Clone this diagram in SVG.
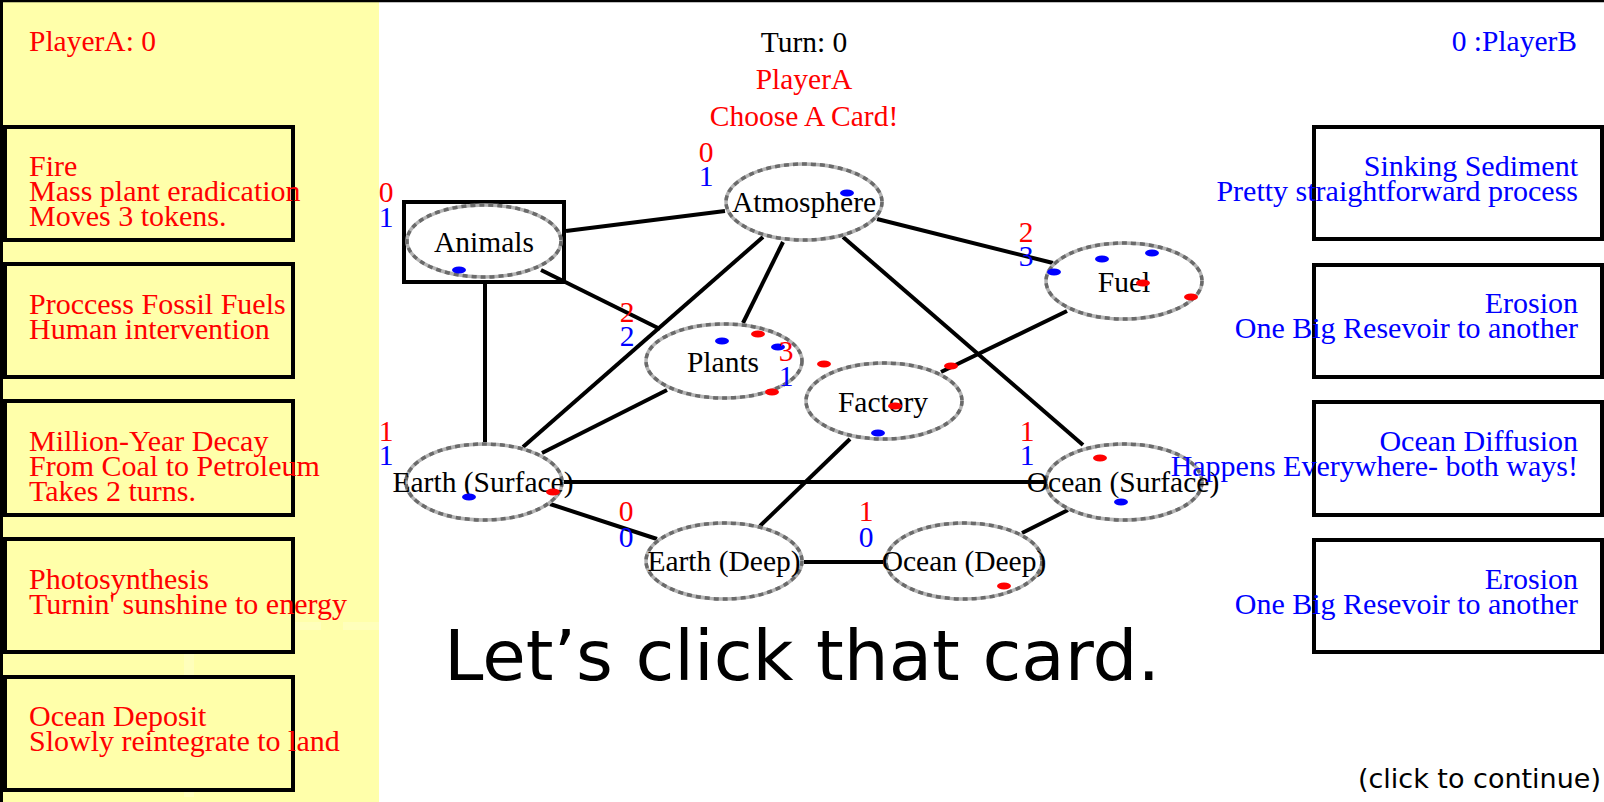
<svg xmlns="http://www.w3.org/2000/svg" width="1604" height="802" viewBox="0 0 1604 802">
<style>
.t{font-family:"Liberation Serif","Times New Roman",serif;font-size:29.5px}
.c{font-family:"Liberation Serif","Times New Roman",serif;font-size:30px}
.red{fill:#ff0000}
.blue{fill:#0000ff}
.blk{fill:#000}
.mid{text-anchor:middle}
.end{text-anchor:end}
.card{stroke:#000;stroke-width:4}
.conn{stroke:#000;stroke-width:4;stroke-linecap:butt;fill:none}
.ell{fill:#fff;stroke:#b4b4b4;stroke-width:3.5}
.elld{fill:none;stroke:#6a6a6a;stroke-width:3.5;stroke-dasharray:5 4}
.tr{fill:#ff0000}
.tb{fill:#0000ff}
.sans{font-family:"DejaVu Sans","Verdana",sans-serif;fill:#000}
</style>
<rect x="0" y="0" width="1604" height="802" fill="#fff"/>
<rect x="0" y="0" width="379" height="802" fill="#ffffaa"/>
<g opacity="0.2" fill="#fff">
<rect x="184" y="622" width="10" height="175"/>
<rect x="212" y="622" width="43" height="8"/>
<rect x="278" y="622" width="43" height="8"/>
<rect x="343" y="622" width="36" height="8"/>
</g>
<line x1="0" y1="1" x2="1604" y2="1" stroke="#000" stroke-width="2.5"/>
<line x1="1.5" y1="0" x2="1.5" y2="802" stroke="#000" stroke-width="3"/>

<g id="header">
<text class="t red" x="29" y="51">PlayerA: 0</text>
<text class="t blk mid" x="804" y="52">Turn: 0</text>
<text class="t red mid" x="804" y="89">PlayerA</text>
<text class="t red mid" x="804" y="126">Choose A Card!</text>
<text class="t blue end" x="1577" y="51">0 :PlayerB</text>
</g>

<g id="cardsA">
<g id="cardA1"><rect class="card" x="5" y="127" width="288" height="113" fill="#ffffaa"/>
<text class="c red" x="29" y="176">Fire</text><text class="c red" x="29" y="201">Mass plant eradication</text><text class="c red" x="29" y="226">Moves 3 tokens.</text></g>
<g id="cardA2"><rect class="card" x="5" y="264" width="288" height="113" fill="#ffffaa"/>
<text class="c red" x="29" y="314">Proccess Fossil Fuels</text><text class="c red" x="29" y="339">Human intervention</text></g>
<g id="cardA3"><rect class="card" x="5" y="401" width="288" height="114" fill="#ffffaa"/>
<text class="c red" x="29" y="451">Million-Year Decay</text><text class="c red" x="29" y="476">From Coal to Petroleum</text><text class="c red" x="29" y="501">Takes 2 turns.</text></g>
<g id="cardA4"><rect class="card" x="5" y="539" width="288" height="113" fill="#ffffaa"/>
<text class="c red" x="29" y="589">Photosynthesis</text><text class="c red" x="29" y="614">Turnin' sunshine to energy</text></g>
<g id="cardA5"><rect class="card" x="5" y="677" width="288" height="113" fill="#ffffaa"/>
<text class="c red" x="29" y="726">Ocean Deposit</text><text class="c red" x="29" y="751">Slowly reintegrate to land</text></g>
</g>

<g id="connectors">
<line class="conn" x1="566" y1="231" x2="725" y2="211"/>
<line class="conn" x1="541" y1="270" x2="660" y2="329"/>
<line class="conn" x1="485" y1="284" x2="485" y2="442"/>
<line class="conn" x1="783" y1="242" x2="743" y2="323"/>
<line class="conn" x1="763" y1="237" x2="523" y2="447"/>
<line class="conn" x1="667" y1="390" x2="542" y2="453"/>
<line class="conn" x1="877" y1="219" x2="1053" y2="263"/>
<line class="conn" x1="843" y1="237" x2="1083" y2="445"/>
<line class="conn" x1="1067" y1="311" x2="941" y2="372"/>
<line class="conn" x1="850" y1="439" x2="760" y2="526"/>
<line class="conn" x1="564" y1="482" x2="1045" y2="482"/>
<line class="conn" x1="550" y1="504" x2="657" y2="539"/>
<line class="conn" x1="804" y1="562" x2="883" y2="562"/>
<line class="conn" x1="1022" y1="533" x2="1068" y2="510"/>
</g>

<g id="node-animals">
<rect x="404" y="202" width="160" height="80" fill="none" stroke="#000" stroke-width="4"/>
<ellipse class="ell" cx="484" cy="241" rx="77" ry="36"/><ellipse class="elld" cx="484" cy="241" rx="77" ry="36"/>
<text class="t blk mid" x="484" y="252">Animals</text>
<ellipse class="tb" cx="459" cy="270" rx="7" ry="3.5"/>
<text class="t red mid" x="386" y="202">0</text><text class="t blue mid" x="386" y="227">1</text>
</g>
<g id="node-atmosphere">
<ellipse class="ell" cx="804" cy="202" rx="78" ry="38"/><ellipse class="elld" cx="804" cy="202" rx="78" ry="38"/>
<text class="t blk mid" x="804" y="212">Atmosphere</text>
<ellipse class="tb" cx="847" cy="193" rx="7" ry="3.5"/>
<text class="t red mid" x="706" y="162">0</text><text class="t blue mid" x="706" y="186">1</text>
</g>
<g id="node-fuel">
<ellipse class="ell" cx="1124" cy="281" rx="78" ry="38"/><ellipse class="elld" cx="1124" cy="281" rx="78" ry="38"/>
<text class="t blk mid" x="1124" y="292">Fuel</text>
<ellipse class="tb" cx="1102" cy="259" rx="7" ry="3.5"/>
<ellipse class="tb" cx="1152" cy="253" rx="7" ry="3.5"/>
<ellipse class="tb" cx="1054" cy="272" rx="7" ry="3.5"/>
<ellipse class="tr" cx="1143" cy="283" rx="7" ry="3.5"/>
<ellipse class="tr" cx="1191" cy="297" rx="7" ry="3.5"/>
<text class="t red mid" x="1026" y="242">2</text><text class="t blue mid" x="1026" y="266">3</text>
</g>
<g id="node-plants">
<ellipse class="ell" cx="724" cy="361" rx="78" ry="37"/><ellipse class="elld" cx="724" cy="361" rx="78" ry="37"/>
<text class="t blk mid" x="723" y="372">Plants</text>
<ellipse class="tb" cx="722" cy="341" rx="7" ry="3.5"/>
<ellipse class="tr" cx="758" cy="334" rx="7" ry="3.5"/>
<ellipse class="tb" cx="778" cy="347" rx="7" ry="3.5"/>
<ellipse class="tr" cx="772" cy="392" rx="7" ry="3.5"/>
<text class="t red mid" x="627" y="322">2</text><text class="t blue mid" x="627" y="346">2</text>
</g>
<g id="node-factory">
<ellipse class="ell" cx="884" cy="401" rx="78" ry="38"/><ellipse class="elld" cx="884" cy="401" rx="78" ry="38"/>
<text class="t blk mid" x="883" y="412">Factory</text>
<ellipse class="tr" cx="895" cy="406" rx="7" ry="3.5"/>
<ellipse class="tb" cx="878" cy="433" rx="7" ry="3.5"/>
<ellipse class="tr" cx="824" cy="364" rx="7" ry="3.5"/>
<ellipse class="tr" cx="951" cy="366" rx="7" ry="3.5"/>
<text class="t red mid" x="786" y="361">3</text><text class="t blue mid" x="786" y="386">1</text>
</g>
<g id="node-earth-surface">
<ellipse class="ell" cx="484" cy="482" rx="78" ry="38"/><ellipse class="elld" cx="484" cy="482" rx="78" ry="38"/>
<text class="t blk mid" x="483" y="492">Earth (Surface)</text>
<ellipse class="tb" cx="469" cy="497" rx="7" ry="3.5"/>
<ellipse class="tr" cx="553" cy="492" rx="7" ry="3.5"/>
<text class="t red mid" x="386" y="441">1</text><text class="t blue mid" x="386" y="465">1</text>
</g>
<g id="node-ocean-surface">
<ellipse class="ell" cx="1124" cy="482" rx="78" ry="38"/><ellipse class="elld" cx="1124" cy="482" rx="78" ry="38"/>
<text class="t blk mid" x="1123" y="492">Ocean (Surface)</text>
<ellipse class="tr" cx="1100" cy="458" rx="7" ry="3.5"/>
<ellipse class="tb" cx="1121" cy="502" rx="7" ry="3.5"/>
<text class="t red mid" x="1027" y="441">1</text><text class="t blue mid" x="1027" y="465">1</text>
</g>
<g id="node-earth-deep">
<ellipse class="ell" cx="724" cy="561" rx="78" ry="38"/><ellipse class="elld" cx="724" cy="561" rx="78" ry="38"/>
<text class="t blk mid" x="724" y="571">Earth (Deep)</text>
<text class="t red mid" x="626" y="521">0</text><text class="t blue mid" x="626" y="547">0</text>
</g>
<g id="node-ocean-deep">
<ellipse class="ell" cx="964" cy="561" rx="78" ry="38"/><ellipse class="elld" cx="964" cy="561" rx="78" ry="38"/>
<text class="t blk mid" x="964" y="571">Ocean (Deep)</text>
<ellipse class="tr" cx="1004" cy="586" rx="7" ry="3.5"/>
<text class="t red mid" x="866" y="521">1</text><text class="t blue mid" x="866" y="547">0</text>
</g>

<g id="cardsB">
<g id="cardB1"><rect class="card" x="1314" y="127" width="288" height="112" fill="none"/>
<text class="c blue end" x="1578" y="176">Sinking Sediment</text><text class="c blue end" x="1578" y="201">Pretty straightforward process</text></g>
<g id="cardB2"><rect class="card" x="1314" y="265" width="288" height="112" fill="none"/>
<text class="c blue end" x="1578" y="313">Erosion</text><text class="c blue end" x="1578" y="338">One Big Resevoir to another</text></g>
<g id="cardB3"><rect class="card" x="1314" y="402" width="288" height="113" fill="none"/>
<text class="c blue end" x="1578" y="451">Ocean Diffusion</text><text class="c blue end" x="1578" y="476">Happens Everywhere- both ways!</text></g>
<g id="cardB4"><rect class="card" x="1314" y="540" width="288" height="112" fill="none"/>
<text class="c blue end" x="1578" y="589">Erosion</text><text class="c blue end" x="1578" y="614">One Big Resevoir to another</text></g>
</g>

<text class="sans" x="444" y="680" font-size="70" textLength="716" lengthAdjust="spacingAndGlyphs">Let’s click that card.</text>
<text class="sans" x="1601" y="788" font-size="27" text-anchor="end">(click to continue)</text>
</svg>
